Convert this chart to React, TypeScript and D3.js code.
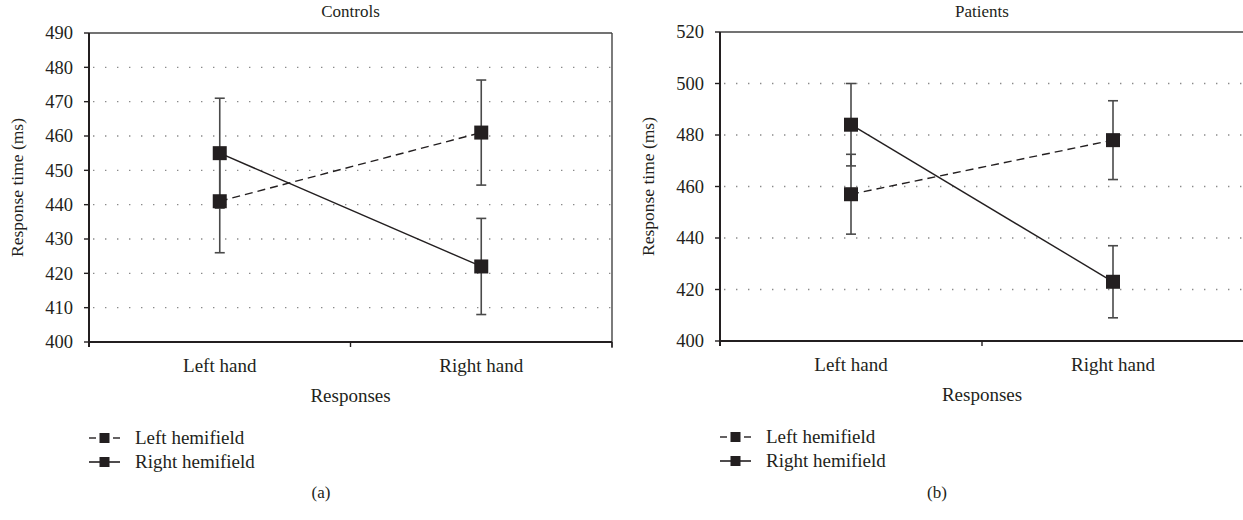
import React from "react";
import * as d3 from "d3";

const categories = ["Left hand", "Right hand"];
const seriesNames = ["Left hemifield", "Right hemifield"];

const controlsLeftHemi = [441, 461];
const controlsLeftHemiErr = [15, 15.3];
const controlsRightHemi = [455, 422];
const controlsRightHemiErr = [16, 14];

const patientsLeftHemi = [457, 478];
const patientsLeftHemiErr = [15.5, 15.3];
const patientsRightHemi = [484, 423];
const patientsRightHemiErr = [16, 14];

const controlsTicks = [400, 410, 420, 430, 440, 450, 460, 470, 480, 490];
const patientsTicks = [400, 420, 440, 460, 480, 500, 520];

const INK = "#231f20";
const FONT = "'Liberation Serif', 'DejaVu Serif', serif";

type PanelProps = {
  title: string;
  letter: string;
  letterX: number;
  x0: number;
  x1: number;
  yTop: number;
  yBottom: number;
  domain: [number, number];
  ticks: number[];
  series: { values: number[]; errs: number[]; dashed: boolean }[];
  rightBorder: boolean;
};

function Panel(p: PanelProps) {
  const x = d3.scaleBand<string>().domain(categories).range([p.x0, p.x1]);
  const y = d3.scaleLinear().domain(p.domain).range([p.yBottom, p.yTop]);
  const cx = (c: string) => (x(c) as number) + x.bandwidth() / 2;
  const line = d3
    .line<number>()
    .x((_, i) => cx(categories[i]))
    .y((v) => y(v));
  const mid = (p.x0 + p.x1) / 2;
  const sq = 14;
  const cap = 5;
  return (
    <g>
      <text x={mid} y={17} textAnchor="middle" fontSize={17} fill={INK} fontFamily={FONT}>
        {p.title}
      </text>
      {p.ticks.slice(1, -1).map((t) => (
        <line
          key={"g" + t}
          x1={p.x0 + 4}
          x2={p.x1}
          y1={y(t)}
          y2={y(t)}
          stroke="#8a8a8a"
          strokeWidth={1.4}
          strokeDasharray="1.4,10.6"
        />
      ))}
      <line x1={p.x0} x2={p.x1} y1={p.yTop} y2={p.yTop} stroke="#444" strokeWidth={1.4} />
      {p.rightBorder && (
        <line x1={p.x1} x2={p.x1} y1={p.yTop} y2={p.yBottom + 6} stroke="#444" strokeWidth={1.4} />
      )}
      <line x1={p.x0} x2={p.x0} y1={p.yTop} y2={p.yBottom + 5} stroke={INK} strokeWidth={2} />
      {p.ticks.map((t) => (
        <g key={"t" + t}>
          <line x1={p.x0 - 5} x2={p.x0} y1={y(t)} y2={y(t)} stroke={INK} strokeWidth={1.4} />
          <text
            x={p.x0 - 16}
            y={y(t)}
            dy="0.35em"
            textAnchor="end"
            fontSize={18.5}
            fill={INK}
            fontFamily={FONT}
          >
            {t}
          </text>
        </g>
      ))}
      <line x1={p.x0} x2={p.x1} y1={p.yBottom} y2={p.yBottom} stroke={INK} strokeWidth={2} />
      {[p.x0, mid, p.x1].map((tx, i) => (
        <line key={"xt" + i} x1={tx} x2={tx} y1={p.yBottom} y2={p.yBottom + 5} stroke={INK} strokeWidth={1.4} />
      ))}
      {categories.map((c) => (
        <text key={c} x={cx(c)} y={p.yBottom + 30} textAnchor="middle" fontSize={19} fill={INK} fontFamily={FONT}>
          {c}
        </text>
      ))}
      <text x={mid} y={p.yBottom + 60} textAnchor="middle" fontSize={19} fill={INK} fontFamily={FONT}>
        Responses
      </text>
      <text
        transform={`translate(${p.x0 - 66},${(p.yTop + p.yBottom) / 2}) rotate(-90)`}
        textAnchor="middle"
        fontSize={17.5}
        fill={INK}
        fontFamily={FONT}
      >
        Response time (ms)
      </text>
      {p.series.map((s, si) =>
        s.values.map((v, i) => {
          const px = cx(categories[i]);
          return (
            <g key={"e" + si + i} stroke="#4a4a4a" strokeWidth={1.6}>
              <line x1={px} x2={px} y1={y(v - s.errs[i])} y2={y(v + s.errs[i])} />
              <line x1={px - cap} x2={px + cap} y1={y(v - s.errs[i])} y2={y(v - s.errs[i])} />
              <line x1={px - cap} x2={px + cap} y1={y(v + s.errs[i])} y2={y(v + s.errs[i])} />
            </g>
          );
        })
      )}
      {p.series.map((s, si) => (
        <path
          key={"l" + si}
          d={line(s.values) || ""}
          fill="none"
          stroke={INK}
          strokeWidth={1.4}
          strokeDasharray={s.dashed ? "8,5" : undefined}
        />
      ))}
      {p.series.map((s, si) =>
        s.values.map((v, i) => (
          <rect
            key={"m" + si + i}
            x={cx(categories[i]) - sq / 2}
            y={y(v) - sq / 2}
            width={sq}
            height={sq}
            fill={INK}
          />
        ))
      )}
      {seriesNames.map((n, i) => {
        const ly = p.yBottom + 96 + i * 24;
        const dashed = p.series[i].dashed;
        return (
          <g key={n}>
            {dashed ? (
              <g stroke={INK} strokeWidth={1.4}>
                <line x1={p.x0} x2={p.x0 + 7} y1={ly} y2={ly} />
                <line x1={p.x0 + 24} x2={p.x0 + 31} y1={ly} y2={ly} />
              </g>
            ) : (
              <line x1={p.x0} x2={p.x0 + 31} y1={ly} y2={ly} stroke={INK} strokeWidth={1.6} />
            )}
            <rect x={p.x0 + 10.5} y={ly - 5} width={10} height={10} fill={INK} />
            <text x={p.x0 + 46} y={ly + 6} fontSize={19} fill={INK} fontFamily={FONT}>
              {n}
            </text>
          </g>
        );
      })}
      <text x={p.letterX} y={498} textAnchor="middle" fontSize={17} fill={INK} fontFamily={FONT}>
        {p.letter}
      </text>
    </g>
  );
}

export default function App() {
  return (
    <svg
      width={1243}
      height={520}
      style={{ position: "absolute", left: 0, top: 0, background: "#fff" }}
    >
      <rect width={1243} height={520} fill="#fff" />
      <Panel
        title="Controls"
        letter="(a)"
        letterX={321}
        x0={89}
        x1={612}
        yTop={33}
        yBottom={342}
        domain={[400, 490]}
        ticks={controlsTicks}
        rightBorder={true}
        series={[
          { values: controlsLeftHemi, errs: controlsLeftHemiErr, dashed: true },
          { values: controlsRightHemi, errs: controlsRightHemiErr, dashed: false },
        ]}
      />
      <Panel
        title="Patients"
        letter="(b)"
        letterX={937}
        x0={720}
        x1={1244}
        yTop={32}
        yBottom={341}
        domain={[400, 520]}
        ticks={patientsTicks}
        rightBorder={false}
        series={[
          { values: patientsLeftHemi, errs: patientsLeftHemiErr, dashed: true },
          { values: patientsRightHemi, errs: patientsRightHemiErr, dashed: false },
        ]}
      />
    </svg>
  );
}
